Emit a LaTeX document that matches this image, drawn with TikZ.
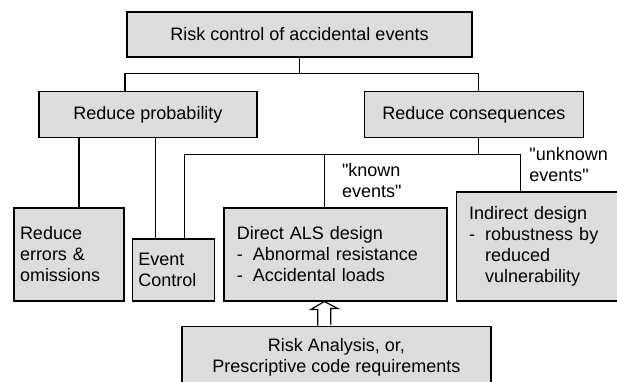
\documentclass[tikz,border=0pt]{standalone}
\usepackage{fontspec}
\setmainfont{Liberation Sans}[Ligatures=TeXOff]
\usetikzlibrary{arrows.meta, positioning, calc}
\definecolor{boxgray}{RGB}{221,221,221}
\newcommand{\dashitem}{\makebox[16pt][l]{-}}

\begin{document}
\begin{tikzpicture}[
        x=1pt, y=-1pt,
        font=\fontsize{18}{21}\selectfont,
        box/.style={draw, line width=1.4pt, fill=boxgray, align=center, inner sep=0pt},
        leftbox/.style={box, align=left, inner xsep=6pt},
        note/.style={align=left, inner sep=0pt},
        link/.style={line width=1.1pt},
        hollow/.style={line width=1.2pt, line join=miter}
        ]
        \useasboundingbox (0,0) rectangle (617,381);
        % top level
        \node[box, minimum width=345pt, minimum height=45pt] (riskctl) at (299.5,34.5) {Risk control of accidental events};
        \node[box, minimum width=218pt, minimum height=46pt, below right=33pt and -88pt of riskctl.south west] (prob) {Reduce probability};
        \node[box, minimum width=219pt, minimum height=46pt, right=106pt of prob] (cons) {Reduce consequences};
        % measures
        \node[leftbox, text width=98pt, minimum height=93pt, below right=69pt and -25pt of prob.south west] (errors) {Reduce\\errors \&\\omissions\\[-10pt]};
        \node[leftbox, text width=70pt, minimum height=62pt, right=7pt of errors.south east, anchor=south west] (event) {Event\\Control};
        \node[leftbox, inner xsep=13pt, text width=197pt, minimum height=93pt, right=8pt of event.south east, anchor=south west] (direct)
            {Direct ALS design\\\dashitem Abnormal resistance\\\dashitem Accidental loads\\[-10pt]};
        \node[leftbox, inner xsep=13pt, text width=137pt, minimum height=109pt, right=8pt of direct.south east, anchor=south west] (indirect)
            {Indirect design\\\dashitem robustness by\\\hspace*{16pt}reduced\\\hspace*{16pt}vulnerability};
        \node[box, minimum width=309pt, minimum height=62pt, below=24pt of direct, xshift=1pt] (analysis) {Risk Analysis, or,\\Prescriptive code requirements};
        % tree from the top
        \coordinate (topsplit) at ($(riskctl.south)+(0,16)$);
        \draw[link] (riskctl.south) -- (topsplit);
        \draw[link] ([xshift=-23pt]prob.north) |- (topsplit) -| ([xshift=4.5pt]cons.north);
        % probability branches
        \draw[link] ([xshift=10pt]errors.north) -- ([xshift=10pt]errors.north |- prob.south);
        \draw[link] ([xshift=-18pt]event.north) -- ([xshift=-18pt]event.north |- prob.south);
        % consequence branches
        \coordinate (conssplit) at ($(cons.south)+(4.5,16)$);
        \draw[link] ([xshift=4.5pt]cons.south) -- (conssplit);
        \draw[link] ([xshift=11pt]event.north) |- (conssplit) -| ([xshift=-17.5pt]indirect.north);
        \draw[link] ([xshift=-10.5pt]direct.north) -- ([xshift=-10.5pt]direct.north |- conssplit);
        \node[note, anchor=south west] (known) at ([xshift=6.5pt, yshift=9pt]direct.north) {"known\\events"};
        \node[note, anchor=south west] (unknown) at ([xshift=-8.5pt, yshift=9pt]indirect.north) {"unknown\\events"};
        % hollow arrow into the direct design
        \draw[hollow] ([xshift=-18.5pt]analysis.north) -- ++(0,-16) -- ++(-7,0) -- ([xshift=-11pt]direct.south)
            -- ++(13.5,7) -- ++(-7,0) -- ++(0,16);
    \end{tikzpicture}
\end{document}
